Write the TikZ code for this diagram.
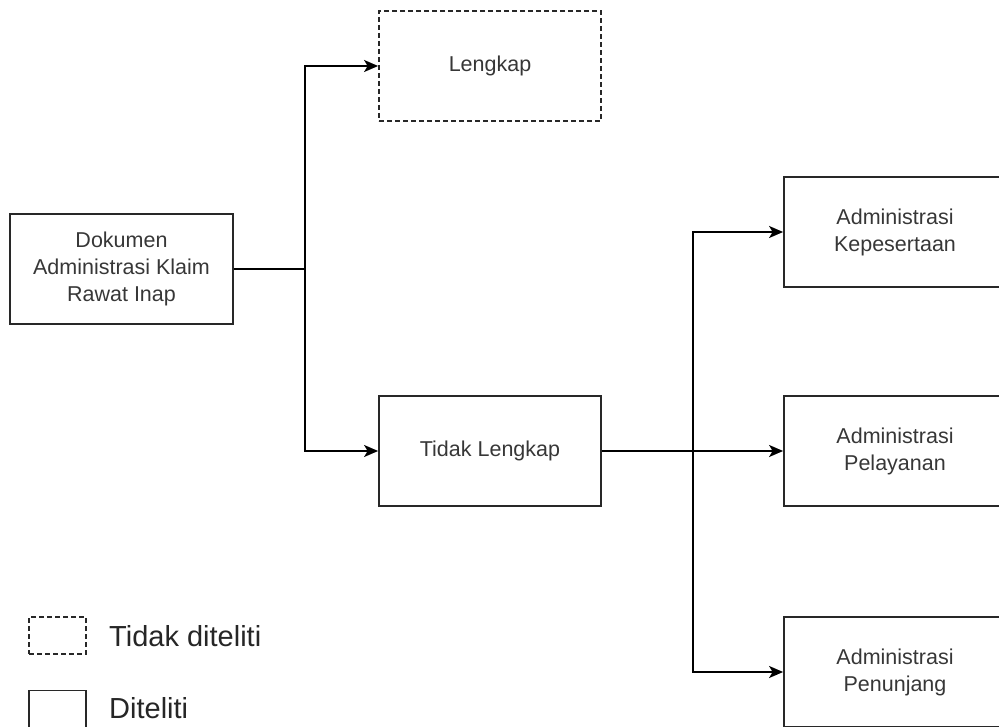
\documentclass[tikz,border=0pt]{standalone}
\usepackage{fontspec}
\setmainfont{Liberation Sans}
\usepackage{xcolor}
\usetikzlibrary{arrows.meta, positioning}
\definecolor{boxline}{RGB}{40, 40, 40}
\definecolor{labelgray}{RGB}{55, 55, 55}

\begin{document}
\begin{tikzpicture}[
  x=1pt, y=-1pt,
  box/.style={rectangle, draw=boxline, line width=1.8pt, minimum width=222pt,
              minimum height=110pt, align=center, text=labelgray,
              font=\fontsize{21.5}{27}\selectfont},
  dashbox/.style={box, dash pattern=on 5pt off 3pt},
  legendbox/.style={rectangle, draw=boxline, line width=1.6pt, minimum width=57pt,
                    minimum height=37pt},
  legendtext/.style={anchor=west, inner sep=0pt, text=black!85,
                     font=\fontsize{29}{34}\selectfont},
  arrow/.style={-{Stealth[length=14pt, width=12pt, inset=3.5pt]}, line width=1.8pt, color=black}
]
\useasboundingbox (0,0) rectangle (999,727);
\clip (0,0) rectangle (999,727);

% Source
\node[box, minimum width=223pt] (doc) at (121.5,269) {Dokumen\\Administrasi Klaim\\Rawat Inap};

% Completeness
\node[dashbox] (lengkap) at (490,66) {Lengkap};
\node[box] (tidak) at (490,451) {Tidak Lengkap};

% Administration types
\node[box] (kep) at (895,232) {Administrasi\\Kepesertaan};
\node[box] (pel) at (895,451) {Administrasi\\Pelayanan};
\node[box] (pen) at (895,672) {Administrasi\\Penunjang};

% Junctions
\coordinate (j1) at (305,269);
\coordinate (j2) at (693,451);

% Arrows
\draw[line width=1.8pt] (doc) -- (j1);
\draw[arrow] (j1) |- (lengkap);
\draw[arrow] (j1) |- (tidak);
\draw[arrow] (tidak) -- (pel);
\draw[arrow] (j2) |- (kep);
\draw[arrow] (j2) |- (pen);

% Legend
\node[legendbox, dash pattern=on 5pt off 3pt] (lgdash) at (57.5,635.5) {};
\node[legendbox] (lgsolid) at (57.5,709) {};
\node[legendtext] (lgdashtxt) at (109,636) {Tidak diteliti};
\node[legendtext] (lgsolidtxt) at (109,708) {Diteliti};

\end{tikzpicture}
\end{document}
